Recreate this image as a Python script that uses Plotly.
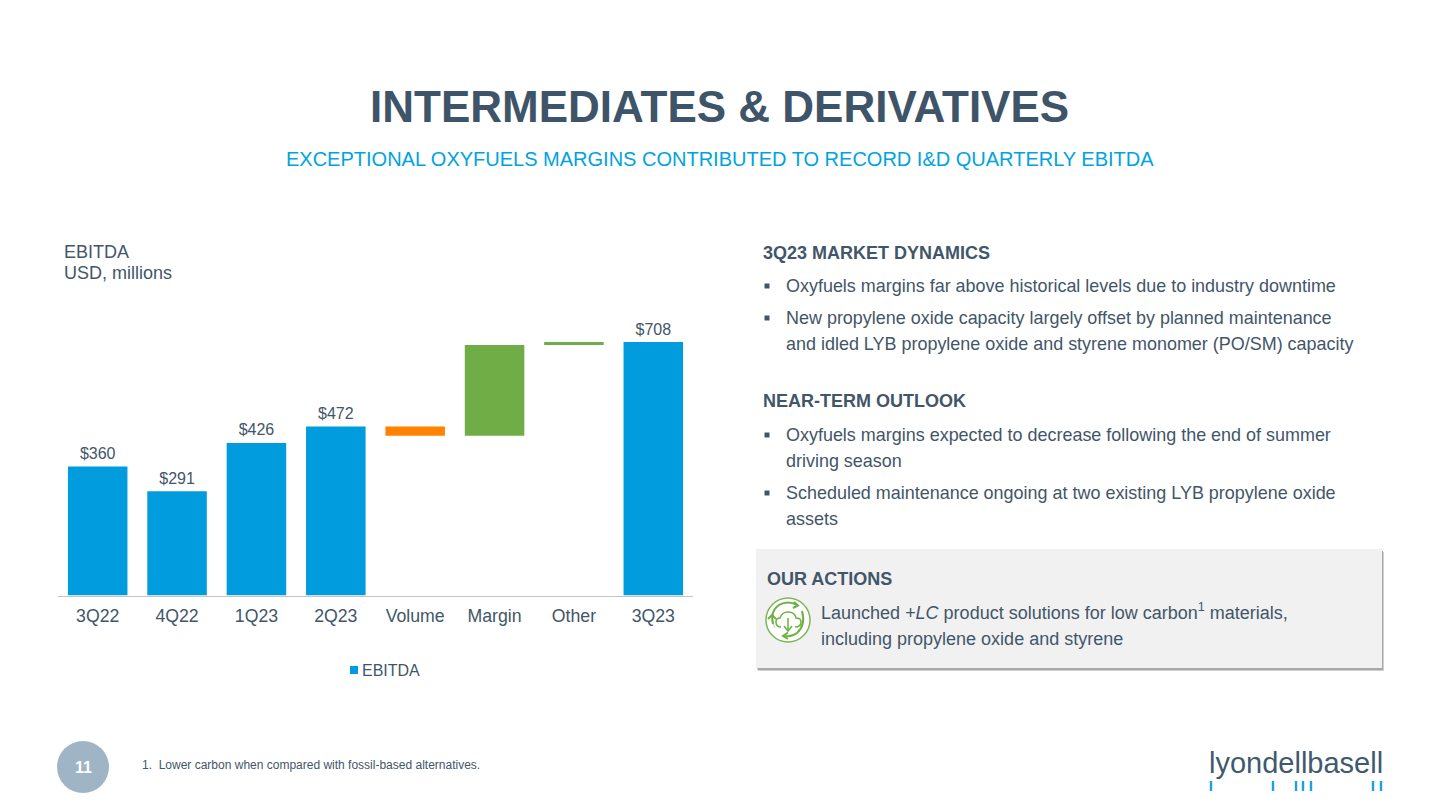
import plotly.graph_objects as go

W, H = 1440, 810
DARK = "#425669"
BLUE = "#009cde"
GREEN = "#70ad47"
ORANGE = "#ff8200"
SANS = "Liberation Sans, Arial, sans-serif"

categories = ["3Q22", "4Q22", "1Q23", "2Q23", "Volume", "Margin", "Other", "3Q23"]
values = [360, 291, 426, 472, -26, 254, 8, 708]
measures = ["absolute", "absolute", "absolute", "absolute", "relative", "relative", "relative", "absolute"]
label_categories = ["3Q22", "4Q22", "1Q23", "2Q23", "3Q23"]
label_values = [360, 291, 426, 472, 708]
label_texts = ["$360", "$291", "$426", "$472", "$708"]
legend_name = "EBITDA"

def X(p): return p / W
def Y(p): return 1 - p / H

fig = go.Figure()
fig.add_trace(go.Waterfall(
    x=categories, y=values, measure=measures,
    textposition="none",
    totals=dict(marker=dict(color=BLUE, line=dict(width=0))),
    increasing=dict(marker=dict(color=GREEN, line=dict(width=0))),
    decreasing=dict(marker=dict(color=ORANGE, line=dict(width=0))),
    connector=dict(visible=False), showlegend=False, hoverinfo="skip",
))
fig.add_trace(go.Scatter(
    x=label_categories, y=label_values, text=label_texts, mode="markers+text",
    textposition="top center", textfont=dict(size=16, color=DARK, family=SANS),
    marker=dict(size=4, opacity=0), showlegend=False, hoverinfo="skip", cliponaxis=False,
))

ann = []
def text(x, y, s, size, color=DARK, bold=False, anchor="left"):
    if bold:
        s = f"<b>{s}</b>"
    ann.append(dict(x=X(x), y=Y(y), xref="paper", yref="paper", text=s, showarrow=False,
                    xanchor=anchor, yanchor="middle", align=anchor,
                    font=dict(size=size, color=color, family=SANS),
                    borderpad=0, borderwidth=0))

shapes = []
def rect(x0, y0, x1, y1, fill, line=None, lw=0, kind="rect"):
    shapes.append(dict(type=kind, xref="paper", yref="paper", x0=X(x0), x1=X(x1), y0=Y(y0), y1=Y(y1),
                       fillcolor=fill, line=dict(color=line or fill, width=lw), layer="below"))

def path(pts, color, width=2, fill=None):
    d = ""
    for p in pts:
        if len(p) == 3:
            d += f"{p[0]}{X(p[1]):.5f},{Y(p[2]):.5f} "
        else:
            d += f"{p[0]}{X(p[1]):.5f},{Y(p[2]):.5f} {X(p[3]):.5f},{Y(p[4]):.5f} "
    shapes.append(dict(type="path", xref="paper", yref="paper", path=d.strip(),
                       line=dict(color=color, width=width),
                       fillcolor=fill or "rgba(0,0,0,0)", layer="above"))

# Titles
text(719.5, 107, "INTERMEDIATES &amp; DERIVATIVES", 44, "#3e5468", True, "center")
text(720, 159, "EXCEPTIONAL OXYFUELS MARGINS CONTRIBUTED TO RECORD I&amp;D QUARTERLY EBITDA", 20, "#00a3e0", False, "center")

# Chart caption
text(64, 252, "EBITDA", 18)
text(64, 273, "USD, millions", 18)

# Legend
rect(350, 666, 358, 674, BLUE)
text(362, 670.5, legend_name, 16)

# Right column
text(763, 253, "3Q23 MARKET DYNAMICS", 18, bold=True)
text(763, 401, "NEAR-TERM OUTLOOK", 18, bold=True)
body = [
    (286, "Oxyfuels margins far above historical levels due to industry downtime", True),
    (318, "New propylene oxide capacity largely offset by planned maintenance", True),
    (344, "and idled LYB propylene oxide and styrene monomer (PO/SM) capacity", False),
    (435, "Oxyfuels margins expected to decrease following the end of summer", True),
    (461, "driving season", False),
    (493, "Scheduled maintenance ongoing at two existing LYB propylene oxide", True),
    (519, "assets", False),
]
for y, s, bullet in body:
    text(786, y, s, 17.97)
    if bullet:
        rect(764.5, y - 2.5, 769.5, y + 2.5, DARK)

# Actions box
rect(758, 552, 1384, 671, "#d0d0d0")
rect(757.5, 551, 1383, 670, "#a8a8a8")
rect(756, 549, 1382, 668, "#f1f1f1")
text(767, 579, "OUR ACTIONS", 18, bold=True)
text(821, 611.5, "Launched <i>+LC</i> product solutions for low carbon<sup>1</sup> materials,", 18)
text(821, 639, "including propylene oxide and styrene", 18)

# Icon
rect(766, 598, 810, 642, "#ffffff", "#7fb65a", 1.5, "circle")
ig = "#6fb044"
path([("M", 773, 624), ("Q", 770, 611, 779, 605), ("Q", 788, 600, 797, 605)], ig, 2)
path([("M", 794, 602), ("L", 798, 605.5), ("L", 793, 608)], ig, 2)
path([("M", 802, 611), ("Q", 806, 625, 797, 633), ("Q", 792, 637, 785, 636)], ig, 2)
path([("M", 788, 632.5), ("L", 783, 636), ("L", 788, 639)], ig, 2)
path([("M", 775, 628), ("Q", 771, 622, 772, 615)], ig, 0.5)
path([("M", 768, 619), ("L", 772, 615), ("L", 776, 619)], ig, 2)
path([("M", 781, 627), ("Q", 776, 627, 776, 622), ("Q", 776, 618, 780, 618),
      ("Q", 782, 612, 788, 612), ("Q", 795, 612, 796, 618),
      ("Q", 801, 618, 801, 622), ("Q", 801, 627, 795, 627)], ig, 1.5)
path([("M", 788, 618), ("L", 788, 630)], ig, 1.5)
path([("M", 784, 626), ("L", 788, 631), ("L", 792, 626)], ig, 1.5)

# Page number and footnote
rect(57, 741, 109, 793, "#9fb5c6", kind="circle")
text(83, 767, "11", 16, "#ffffff", True, "center")
text(142, 764.5, "1.&#160;&#160;Lower carbon when compared with fossil-based alternatives.", 12)

# Logo
text(1296, 763, "lyondellbasell", 29, "#3f5a6e", False, "center")
for lx in [1211, 1273, 1296, 1303, 1311, 1373, 1381]:
    rect(lx - 1.2, 781, lx + 1.2, 791, "#1ca3dc")

# Plot area: x 58..693, baseline 595.5, 0.358 px per unit (range 0..800)
fig.update_layout(
    width=W, height=H, autosize=False,
    margin=dict(l=0, r=0, t=0, b=0),
    paper_bgcolor="#ffffff", plot_bgcolor="#ffffff",
    waterfallgap=0.25,
    xaxis=dict(domain=[X(58), X(693)], type="category", categoryorder="array", categoryarray=categories,
               showgrid=False, zeroline=False, showline=True, linecolor="#c4c4c4", linewidth=1,
               ticks="", ticklabelstandoff=4,
               tickfont=dict(size=17.7, color=DARK, family=SANS), fixedrange=True),
    yaxis=dict(domain=[Y(595.5), Y(309.1)], range=[0, 800], visible=False, fixedrange=True),
    showlegend=False,
    annotations=ann, shapes=shapes,
)

fig.write_html("out.html", config={"displayModeBar": False},
               post_script="document.body.style.margin='0';document.body.style.overflow='hidden';")
